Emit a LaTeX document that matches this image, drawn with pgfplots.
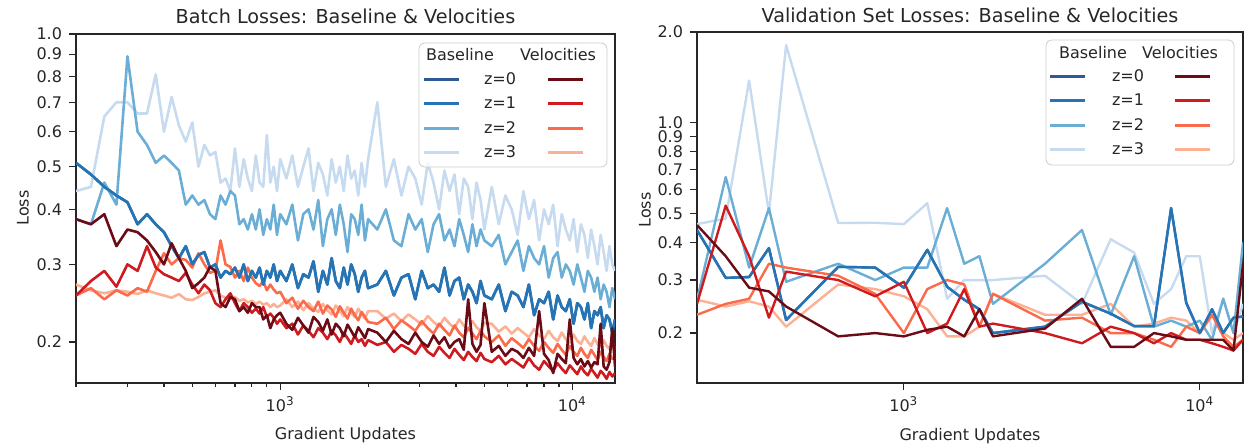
\documentclass[border=0pt]{standalone}
\usepackage{fontspec}
\setmainfont{DejaVu Sans}
\usepackage{pgfplots}
\usepackage{pgfplotstable}
\pgfplotsset{compat=1.18}

\definecolor{b0}{HTML}{2A5B97}
\definecolor{b1}{HTML}{2474B6}
\definecolor{b2}{HTML}{6AAED6}
\definecolor{b3}{HTML}{C6DBEF}
\definecolor{v0}{HTML}{6A0B16}
\definecolor{v1}{HTML}{CF1B20}
\definecolor{v2}{HTML}{FB6A4A}
\definecolor{v3}{HTML}{FCB195}

% batch losses (columns: baseline z=1..3 and velocities z=0..3)
\pgfplotstableread{
x     b1    b2    b3    v0    v1    v2    v3
200   .51   .38   .44   .38   .255  .255  .27
225   .48   .37   .45   .37   .275  .265  .262
250   .45   .46   .65   .39   .29   .25   .258
275   .43   .41   .70   .33   .267  .262  .262
300   .415  .89   .70   .36   .30   .255  .26
325   .37   .60   .66   .355  .29   .265  .257
350   .39   .56   .66   .34   .33   .26   .262
375   .37   .51   .81   .32   .295  .29   .258
400   .355  .53   .60   .30   .285  .318  .255
425   .33   .51   .72   .335  .28   .30   .252
450   .31   .49   .62   .31   .275  .31   .257
475   .33   .41   .57   .29   .287  .307  .25
500   .30   .43   .63   .265  .27   .295  .249
525   .315  .41   .50   .272  .258  .318  .253
550   .32   .42   .56   .28   .27   .30   .258
575   .295  .39   .53   .296  .262  .287  .26
600   .30   .38   .54   .29   .245  .29   .262
625   .28   .43   .46   .245  .24   .34   .255
650   .29   .41   .47   .24   .25   .30   .252
675   .285  .44   .44   .253  .258  .296  .25
700   .295  .43   .55   .25   .245  .28   .253
725   .28   .37   .45   .235  .235  .29   .248
750   .30   .38   .52   .24   .245  .275  .25
775   .275  .36   .47   .233  .24   .295  .246
800   .29   .39   .44   .245  .233  .28   .248
825   .28   .36   .53   .24   .238  .272  .244
850   .295  .40   .46   .24   .232  .268  .247
875   .27   .35   .45   .225  .24   .275  .243
900   .29   .38   .59   .23   .228  .262  .245
925   .28   .36   .46   .215  .232  .27   .24
950   .30   .41   .50   .225  .227  .263  .244
975   .275  .35   .44   .23   .22   .258  .24
1000  .29   .39   .52   .233  .225  .26   .242
1050  .275  .37   .47   .22   .215  .245  .25
1100  .30   .41   .53   .213  .22   .252  .24
1150  .265  .34   .45   .227  .208  .238  .247
1200  .285  .39   .50   .218  .218  .248  .236
1250  .28   .40   .55   .21   .212  .24   .245
1300  .305  .36   .44   .228  .205  .235  .238
1350  .26   .42   .51   .222  .215  .247  .234
1400  .29   .33   .48   .212  .21   .232  .244
1450  .27   .38   .43   .225  .203  .242  .236
1500  .31   .40   .52   .208  .212  .237  .231
1550  .275  .35   .46   .22   .207  .228  .242
1600  .265  .41   .50   .215  .20   .241  .235
1650  .295  .37   .44   .206  .21   .233  .229
1700  .27   .32   .53   .219  .204  .226  .24
1750  .30   .39   .47   .212  .198  .238  .233
1800  .285  .38   .49   .205  .207  .23   .228
1850  .26   .35   .43   .216  .20   .224  .238
1900  .28   .41   .51   .21   .203  .234  .231
1950  .29   .34   .45   .204  .196  .228  .226
2000  .265  .38   .52   .214  .202  .222  .235
2150  .27   .36   .70   .21   .197  .22   .235
2300  .29   .40   .45   .20   .20   .227  .226
2450  .255  .34   .52   .212  .19   .214  .232
2600  .28   .33   .43   .203  .197  .224  .223
2750  .285  .39   .50   .198  .193  .218  .231
2900  .25   .36   .47   .21   .188  .212  .225
3050  .29   .38   .41   .20   .198  .223  .219
3200  .265  .32   .51   .195  .19   .215  .229
3350  .27   .37   .46   .207  .186  .209  .222
3500  .26   .39   .40   .198  .195  .22   .217
3650  .295  .34   .49   .205  .189  .213  .227
3800  .255  .36   .44   .194  .184  .207  .22
3950  .275  .33   .48   .20   .193  .218  .215
4100  .28   .38   .39   .203  .187  .21   .225
4250  .25   .35   .47   .192  .182  .205  .218
4400  .27   .32   .45   .25   .19   .215  .214
4550  .26   .37   .38   .198  .185  .209  .223
4700  .245  .33   .46   .19   .181  .203  .216
4850  .275  .36   .42   .197  .189  .212  .212
5000  .255  .34   .36   .245  .183  .206  .221
5300  .25   .33   .45   .19   .18   .20   .22
5600  .27   .35   .37   .196  .186  .207  .211
5900  .235  .30   .43   .186  .178  .196  .217
6200  .26   .32   .40   .193  .183  .204  .209
6500  .255  .34   .35   .19   .179  .199  .215
6800  .24   .29   .44   .184  .175  .194  .21
7100  .27   .33   .38   .194  .184  .203  .205
7400  .23   .31   .42   .186  .177  .196  .214
7700  .25   .30   .34   .235  .173  .191  .207
8000  .245  .33   .40   .188  .181  .20   .203
8300  .26   .28   .37   .182  .176  .194  .212
8600  .225  .31   .41   .17   .172  .189  .205
8900  .255  .32   .33   .188  .179  .198  .201
9200  .24   .28   .39   .183  .174  .192  .21
9500  .235  .30   .36   .179  .17   .187  .203
9800  .25   .29   .34   .225  .177  .196  .199
10100 .22   .27   .38   .184  .173  .19   .208
10400 .245  .30   .32   .178  .169  .186  .201
10700 .24   .28   .37   .183  .176  .194  .198
11000 .225  .26   .35   .176  .171  .188  .206
11300 .245  .29   .31   .181  .168  .184  .20
11600 .215  .28   .36   .175  .174  .192  .196
11900 .235  .26   .33   .18   .17   .187  .204
12200 .23   .28   .30   .178  .166  .182  .198
12500 .24   .25   .35   .22   .172  .19   .195
12800 .215  .27   .32   .176  .169  .185  .202
13100 .23   .26   .29   .173  .165  .181  .196
13400 .225  .24   .33   .18   .171  .188  .193
13700 .21   .265  .30   .215  .167  .183  .20
14000 .225  .25   .29   .176  .17   .185  .192
}\batchdata

% validation set losses
\pgfplotstableread{
x     b1    b2    b3    v0    v1    v2    v3
200   .44   .258  .46   .457  .25   .23   .258
250   .305  .66   .48   .36   .53   .25   .245
300   .307  .33   1.38  .283  .36   .26   .255
350   .383  .52   .50   .275  .225  .34   .245
400   .221  .296  1.81  .245  .32   .33   .21
600   .332  .34   .464  .195  .30   .31   .29
800   .33   .30   .465  .20   .265  .27   .28
1000  .283  .33   .46   .195  .296  .20   .265
1200  .378  .33   .54   .205  .20   .28   .24
1400  .285  .52   .26   .21   .215  .30   .195
1600  .258  .34   .30   .195  .28   .29   .195
1800  .24   .36   .30   .24   .21   .21   .21
2000  .20   .25   .30   .195  .215  .27   .27
3000  .21   .34   .31   .207  .20   .22   .23
4000  .254  .44   .25   .26   .185  .225  .23
5000  .232  .23   .41   .18   .21   .20   .25
6000  .211  .36   .37   .18   .20   .20   .21
7000  .211  .21   .25   .20   .185  .19   .215
8000  .52   .22   .28   .195  .20   .18   .225
9000  .252  .21   .36   .19   .19   .21   .22
10000 .20   .22   .36   .19   .19   .20   .20
11000 .24   .19   .20   .19   .185  .23   .23
12000 .20   .26   .26   .19   .18   .195  .20
13000 .225  .20   .20   .175  .175  .18   .19
14000 .227  .40   .25   .34   .19   .19   .20
}\valdata

\pgfplotsset{
  lossaxis/.style={
    scale only axis, anchor=south west,
    xmin=200, xmax=14000,
    axis line style={line width=0.8pt, black!85},
    every tick/.style={black!85, line width=0.6pt},
    tick align=outside, xtick pos=bottom, ytick pos=left,
    major tick length=3.5pt, minor tick length=2pt,
    xtick={1000,10000},
    xticklabels={10\textsuperscript{3},10\textsuperscript{4}},
    yminorticks=false,
    tick label style={font=\fontsize{8}{9}\selectfont, black!85},
    every axis plot/.append style={line join=round, no markers},
  },
}

\begin{document}
\begin{tikzpicture}[font=\fontsize{8}{9.6}\selectfont]
\useasboundingbox (0,0) rectangle (629pt,223.5pt);

\begin{loglogaxis}[lossaxis, at={(38pt,32pt)}, width=269.5pt, height=174.5pt,
  ymin=0.1614, ymax=1,
  ytick={0.2,0.3,0.4,0.5,0.6,0.7,0.8,0.9,1.0},
  yticklabels={0.2,0.3,0.4,0.5,0.6,0.7,0.8,0.9,1.0},
  minor xtick={200,300,400,500,600,700,800,900,2000,3000,4000,5000,6000,7000,8000,9000},
  every axis plot/.append style={line width=1.3pt}]
\addplot[b0] table[x=x, y=b1] {\batchdata};
\addplot[b3] table[x=x, y=b3] {\batchdata};
\addplot[v3] table[x=x, y=v3] {\batchdata};
\addplot[b2] table[x=x, y=b2] {\batchdata};
\addplot[v2] table[x=x, y=v2] {\batchdata};
\addplot[b1] table[x=x, y=b1] {\batchdata};
\addplot[v1] table[x=x, y=v1] {\batchdata};
\addplot[v0] table[x=x, y=v0] {\batchdata};
\end{loglogaxis}

\begin{loglogaxis}[lossaxis, at={(348.5pt,32pt)}, width=273pt, height=175.5pt,
  ymin=0.1365, ymax=2,
  ytick={0.2,0.3,0.4,0.5,0.6,0.7,0.8,0.9,1.0,2.0},
  yticklabels={0.2,0.3,0.4,0.5,0.6,0.7,0.8,0.9,1.0,2.0},
  xminorticks=false,
  every axis plot/.append style={line width=1.2pt}]
\addplot[b0] table[x=x, y=b1] {\valdata};
\addplot[b3] table[x=x, y=b3] {\valdata};
\addplot[v3] table[x=x, y=v3] {\valdata};
\addplot[b2] table[x=x, y=b2] {\valdata};
\addplot[v2] table[x=x, y=v2] {\valdata};
\addplot[b1] table[x=x, y=b1] {\valdata};
\addplot[v1] table[x=x, y=v1] {\valdata};
\addplot[v0] table[x=x, y=v0] {\valdata};
\end{loglogaxis}

\begin{scope}[x=0.5pt, y=0.5pt]
% titles and axis labels
\node[font=\fontsize{9.6}{11}\selectfont, text=black!85] at (345.5,431) {Batch Losses: Baseline \& Velocities};
\node[font=\fontsize{9.6}{11}\selectfont, text=black!85] at (970,432) {Validation Set Losses: Baseline \& Velocities};
\node[text=black!85] at (345.5,12) {Gradient Updates};
\node[text=black!85] at (970,11) {Gradient Updates};
\node[text=black!85, rotate=90] at (23,239) {Loss};
\node[text=black!85, rotate=90] at (645,237) {Loss};

% legend, batch losses
\draw[rounded corners=3pt, draw=black!20, fill=white, fill opacity=0.8] (419,280) rectangle (607,404);
\node[text=black!85] at (460,392) {Baseline};
\node[text=black!85] at (558,392) {Velocities};
\foreach \yy/\bc/\rc/\zz in {368/b0/v0/0, 344/b1/v1/1, 319/b2/v2/2, 295/b3/v3/3} {
  \draw[\bc, line width=1.5pt] (424,\yy) -- (459,\yy);
  \node[text=black!85] at (500,\yy) {z=\zz};
  \draw[\rc, line width=1.5pt] (548,\yy) -- (583,\yy);
}

% legend, validation losses
\draw[rounded corners=3pt, draw=black!20, fill=white, fill opacity=0.8] (1046,282) rectangle (1234,407);
\node[text=black!85] at (1093,394) {Baseline};
\node[text=black!85] at (1180,394) {Velocities};
\foreach \yy/\bc/\rc/\zz in {371/b0/v0/0, 347/b1/v1/1, 322/b2/v2/2, 298/b3/v3/3} {
  \draw[\bc, line width=1.5pt] (1050,\yy) -- (1085,\yy);
  \node[text=black!85] at (1128,\yy) {z=\zz};
  \draw[\rc, line width=1.5pt] (1175,\yy) -- (1210,\yy);
}
\end{scope}
\end{tikzpicture}
\end{document}
